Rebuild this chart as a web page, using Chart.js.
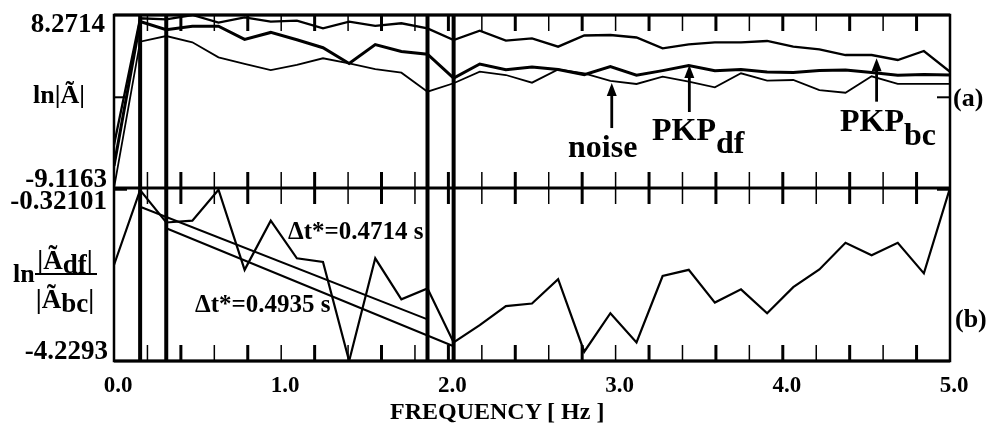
<!DOCTYPE html>
<html lang="en">
<head>
<meta charset="UTF-8">
<title>PKP spectra and spectral ratio</title>
<script src="https://cdn.jsdelivr.net/npm/chart.js@4.4.0/dist/chart.umd.min.js"></script>
<style>
    body { margin: 0; background: #fff; }
    #wrap {
        position: relative;
        width: 991px;
        height: 425px;
        font-family: "Liberation Serif", "Times New Roman", serif;
        font-weight: bold;
        color: #000;
    }
    #wrap canvas { position: absolute; left: 0; top: 0; }
    .t { position: absolute; white-space: nowrap; line-height: 1; }
    .ylab { font-size: 27px; text-align: right; }
    .big { font-size: 32px; }
    .sub { position: relative; }
</style>
</head>
<body>
<div id="wrap">
    <canvas id="spec" width="991" height="425"></canvas>

    <div class="t ylab" style="right:886px; top:10px">8.2714</div>
    <div class="t ylab" style="right:884px; top:165px">-9.1163</div>
    <div class="t ylab" style="right:884px; top:187px">-0.32101</div>
    <div class="t ylab" style="right:883px; top:337px">-4.2293</div>

    <div class="t" style="left:33px; top:82px; font-size:26px">ln|Ã|</div>
    <div class="t" style="left:13px; top:261px; font-size:26px">ln</div>
    <div class="t" style="left:33px; top:247px; width:64px; text-align:center; font-size:27px">|Ã<span class="sub" style="top:4px">df</span>|</div>
    <div style="position:absolute; left:35px; top:273px; width:62px; height:2px; background:#000"></div>
    <div class="t" style="left:33px; top:286px; width:64px; text-align:center; font-size:27px">|Ã<span class="sub" style="top:4px">bc</span>|</div>

    <div class="t" style="left:953px; top:85px; font-size:26px">(a)</div>
    <div class="t" style="left:955px; top:306px; font-size:26px">(b)</div>

    <div class="t big" style="left:568px; top:130px">noise</div>
    <div class="t big" style="left:652px; top:113px">PKP<span class="sub" style="top:13px">df</span></div>
    <div class="t big" style="left:840px; top:104px">PKP<span class="sub" style="top:14px">bc</span></div>

    <div class="t" style="left:288px; top:218px; font-size:25px">Δt*=0.4714 s</div>
    <div class="t" style="left:195px; top:291px; font-size:25px">Δt*=0.4935 s</div>

    <div class="t" style="left:390px; top:399px; font-size:24px">FREQUENCY [ Hz ]</div>
</div>

<script>
    // frequency samples (Hz)
    const freq = [0, 0.15625, 0.3125, 0.46875, 0.625, 0.78125, 0.9375, 1.09375, 1.25, 1.40625,
        1.5625, 1.71875, 1.875, 2.03125, 2.1875, 2.34375, 2.5, 2.65625, 2.8125, 2.96875,
        3.125, 3.28125, 3.4375, 3.59375, 3.75, 3.90625, 4.0625, 4.21875, 4.375, 4.53125,
        4.6875, 4.84375, 5.0];

    // panel (a): ln|A|
    const lnBC = [-4.8, 7.94, 7.84, 8.2714, 7.50, 8.04, 7.60, 7.70, 6.93, 7.60,
        7.17, 7.44, 6.93, 5.76, 6.69, 5.69, 5.93, 5.09, 6.21, 6.26,
        6.01, 4.92, 5.31, 5.53, 5.51, 5.66, 5.09, 4.82, 4.25, 4.25,
        3.75, 4.65, 2.57];
    const lnDF = [-6.9, 7.62, 6.80, 7.15, 7.15, 5.82, 6.52, 5.78, 4.98, 3.40,
        5.30, 4.60, 4.33, 1.93, 3.35, 2.76, 3.04, 2.80, 2.27, 3.09,
        2.22, 2.68, 3.20, 2.68, 2.80, 2.54, 2.50, 2.70, 2.75, 2.50,
        2.22, 2.30, 2.24];
    const lnNoise = [-9.1163, 5.59, 6.16, 5.53, 4.02, 3.35, 2.74, 3.25, 3.92, 3.42,
        2.84, 2.47, 0.56, 1.41, 2.57, 2.24, 1.47, 2.81, 2.41, 1.64,
        1.34, 2.07, 1.57, 1.00, 2.41, 1.67, 1.74, 0.73, 0.46, 2.11,
        1.34, 1.34, 1.34];

    // panel (b): ln(|A_df| / |A_bc|)
    const lnRatio = [-2.06, -0.37, -1.10, -1.06, -0.36, -2.17, -1.06, -1.91, -1.99, -4.2293,
        -1.91, -2.835, -2.59, -3.81, -3.42, -2.99, -2.93, -2.38, -4.02, -3.15,
        -3.81, -2.31, -2.17, -2.91, -2.61, -3.15, -2.56, -2.16, -1.56, -1.84,
        -1.56, -2.25, -0.32101];

    // straight-line fits, [frequency, value] at both ends
    const fit4714 = [[0.15625, -0.7435], [1.875, -3.289]];
    const fit4935 = [[0.3125, -1.2314], [2.03125, -3.896]];

    // fitting window limits (Hz)
    const windowFreqs = [0.15625, 0.3125, 1.875, 2.03125];

    // axis ranges and tick marks
    const topRange = [-9.1163, 8.2714];
    const botRange = [-4.2293, -0.32101];
    const innerTicks = [0.2, 0.4, 0.6, 0.8, 1.0, 1.2, 1.4, 1.6, 1.8, 2.0, 2.2, 2.4,
        2.6, 2.8, 3.0, 3.2, 3.4, 3.6, 3.8, 4.0, 4.2, 4.4, 4.6, 4.8];
    const topSideTicks = [0];
    const botSideTicks = [-0.36];

    // labelled arrows in panel (a): frequency, tail value, tip value
    const arrows = [
        { f: 2.977, tail: -3.09, tip: 1.44 },
        { f: 3.441, tail: -1.48, tip: 3.25 },
        { f: 4.561, tail: -0.44, tip: 3.92 }
    ];

    const serif = '"Liberation Serif", "Times New Roman", serif';
    const pts = ys => freq.map((f, i) => ({ x: f, y: ys[i] }));
    const pairPts = arr => arr.map(p => ({ x: p[0], y: p[1] }));

    const framePlugin = {
        id: 'frame',
        afterDatasetsDraw(chart) {
            const { ctx, chartArea: a, scales } = chart;
            const x = scales.x, yT = scales.yTop, yB = scales.yBot;
            const mid = yT.bottom;
            const seg = (x0, y0, x1, y1) => {
                ctx.beginPath(); ctx.moveTo(x0, y0); ctx.lineTo(x1, y1); ctx.stroke();
            };
            ctx.save();
            ctx.strokeStyle = '#000';
            ctx.fillStyle = '#000';
            ctx.lineCap = 'butt';

            // window limits through both panels
            ctx.lineWidth = 4;
            windowFreqs.forEach(f => {
                const px = x.getPixelForValue(f);
                seg(px, a.top, px, a.bottom);
            });

            // inward ticks along the panel edges
            innerTicks.forEach((f, i) => {
                const px = x.getPixelForValue(f);
                ctx.lineWidth = i % 2 ? 3 : 1.5;
                seg(px, a.top, px, a.top + 16);
                seg(px, mid, px, mid - 16);
                seg(px, mid, px, mid + 16);
                seg(px, a.bottom, px, a.bottom - 16);
            });

            ctx.lineWidth = 2;
            topSideTicks.forEach(v => {
                const py = yT.getPixelForValue(v);
                seg(a.left, py, a.left + 11, py);
                seg(a.right, py, a.right - 13, py);
            });
            botSideTicks.forEach(v => {
                const py = yB.getPixelForValue(v);
                seg(a.left, py, a.left + 13, py);
                seg(a.right, py, a.right - 13, py);
            });

            // frame
            ctx.lineWidth = 2.5;
            ctx.strokeRect(a.left, a.top, a.width, a.height);
            ctx.lineWidth = 3;
            seg(a.left, a.top, a.right, a.top);
            seg(a.left, mid, a.right, mid);
            seg(a.left, a.bottom, a.right, a.bottom);

            // arrows
            arrows.forEach(ar => {
                const px = x.getPixelForValue(ar.f);
                const y0 = yT.getPixelForValue(ar.tail);
                const y1 = yT.getPixelForValue(ar.tip);
                ctx.lineWidth = 2.8;
                seg(px, y0, px, y1 + 10);
                ctx.beginPath();
                ctx.moveTo(px, y1);
                ctx.lineTo(px - 5, y1 + 13);
                ctx.lineTo(px + 5, y1 + 13);
                ctx.closePath();
                ctx.fill();
            });
            ctx.restore();
        }
    };

    const line = (data, axis, width) => ({
        data: data,
        yAxisID: axis,
        borderColor: '#000',
        borderWidth: width,
        pointRadius: 0,
        fill: false,
        tension: 0
    });

    new Chart(document.getElementById('spec'), {
        type: 'line',
        data: {
            datasets: [
                line(pts(lnBC), 'yTop', 2.3),
                line(pts(lnDF), 'yTop', 3),
                line(pts(lnNoise), 'yTop', 1.8),
                line(pts(lnRatio), 'yBot', 2.2),
                line(pairPts(fit4714), 'yBot', 2),
                line(pairPts(fit4935), 'yBot', 2)
            ]
        },
        options: {
            responsive: false,
            animation: false,
            layout: { padding: { left: 114, right: 41, top: 15, bottom: 0 } },
            plugins: { legend: { display: false }, tooltip: { enabled: false } },
            scales: {
                x: {
                    type: 'linear',
                    min: 0,
                    max: 5,
                    grid: { display: false, drawTicks: false },
                    border: { display: false },
                    ticks: {
                        stepSize: 1,
                        callback: v => v.toFixed(1),
                        font: { family: serif, size: 23, weight: 'bold' },
                        color: '#000',
                        padding: 11,
                        labelOffset: 4,
                        maxRotation: 0
                    },
                    afterFit: s => { s.height = 64; }
                },
                // stacked left axes: the one listed last is placed on top
                yBot: {
                    type: 'linear',
                    position: 'left',
                    stack: 'panels',
                    stackWeight: 1,
                    min: botRange[0],
                    max: botRange[1],
                    grid: { display: false, drawTicks: false },
                    border: { display: false },
                    ticks: { display: false },
                    afterFit: s => { s.width = 0; }
                },
                yTop: {
                    type: 'linear',
                    position: 'left',
                    stack: 'panels',
                    stackWeight: 1,
                    min: topRange[0],
                    max: topRange[1],
                    grid: { display: false, drawTicks: false },
                    border: { display: false },
                    ticks: { display: false },
                    afterFit: s => { s.width = 0; }
                }
            }
        },
        plugins: [framePlugin]
    });
</script>
</body>
</html>
